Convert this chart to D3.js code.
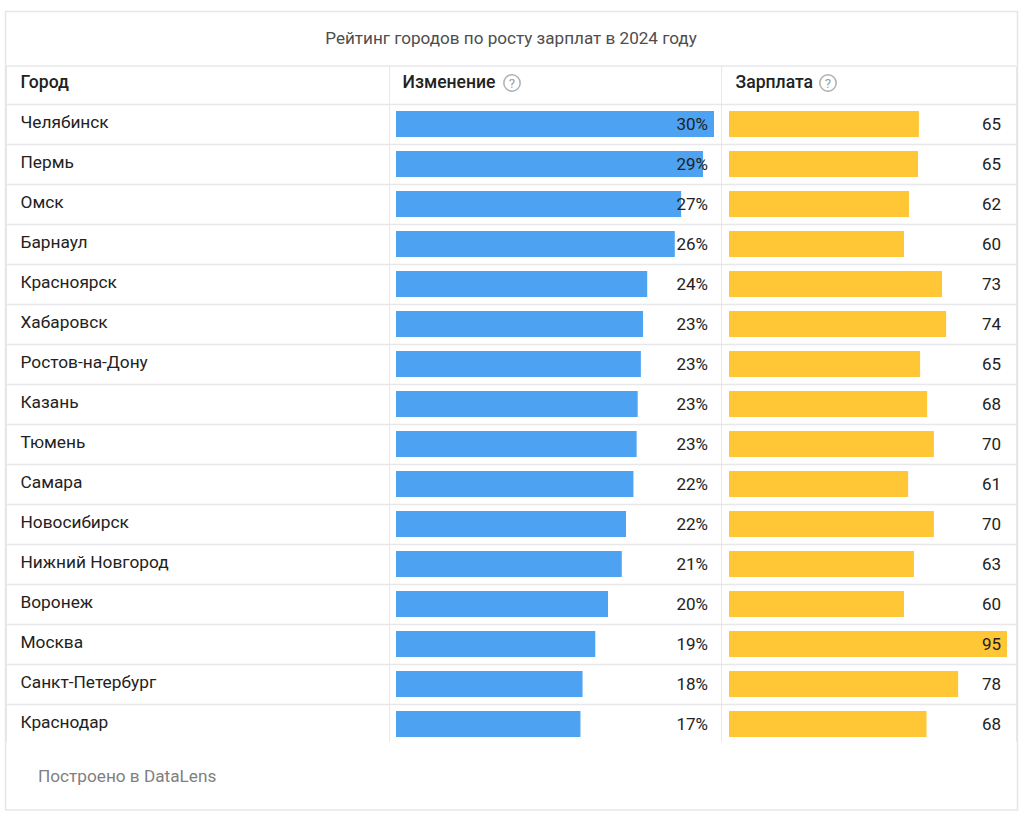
<!DOCTYPE html>
<html lang="ru"><head><meta charset="utf-8">
<script src="https://cdn.jsdelivr.net/npm/d3@7"></script>
<style>html,body{margin:0;padding:0;background:#fff}svg{display:block}text{font-family:Roboto,"Noto Sans",sans-serif}</style>
</head><body><div id="chart"></div>
<script>
const title = "Рейтинг городов по росту зарплат в 2024 году";
const footer = "Построено в DataLens";
const headers = ["Город", "Изменение", "Зарплата"];
const cities = ["Челябинск","Пермь","Омск","Барнаул","Красноярск","Хабаровск","Ростов-на-Дону","Казань","Тюмень","Самара","Новосибирск","Нижний Новгород","Воронеж","Москва","Санкт-Петербург","Краснодар"];
const change = [30.0,28.96,26.9,26.3,23.7,23.3,23.1,22.8,22.7,22.4,21.7,21.3,20.0,18.8,17.6,17.4];
const salary = [64.9,64.6,61.5,59.8,72.8,74.2,65.3,67.7,70.0,61.2,70.0,63.2,59.8,95.0,78.3,67.5];

const W = 1024, H = 822;
const svg = d3.select("#chart").append("svg").attr("width", W).attr("height", H);
const grid = "#e8e8ec", ink = "#222";

// frame
svg.append("rect").attr("x",5.5).attr("y",11.5).attr("width",1012).attr("height",798.5)
  .attr("fill","#fff").attr("stroke","#e6e6e6").attr("stroke-width",1.5);

svg.append("text").attr("x",511).attr("y",43.5).attr("text-anchor","middle")
  .attr("font-size",17.1).attr("fill","#4d4d4d").text(title);

const y = d3.scaleBand().domain(cities).range([104.5, 744.5]).paddingInner(0);
const xChange = d3.scaleLinear().domain([0,30]).range([396,714]);
const xSalary = d3.scaleLinear().domain([0,95]).range([729,1007]);
const tableTop = 66, tableBottom = 742, colX = [6,389,721,1016];

// horizontal rules
const rules = [tableTop, ...cities.map(c => y(c))];
svg.append("g").selectAll("line").data(rules).join("line")
  .attr("x1",colX[0]).attr("x2",colX[3]).attr("y1",d=>d).attr("y2",d=>d)
  .attr("stroke",grid).attr("stroke-width",1.5);
// vertical rules
svg.append("g").selectAll("line").data(colX).join("line")
  .attr("x1",d=>d+.5).attr("x2",d=>d+.5).attr("y1",tableTop).attr("y2",tableBottom)
  .attr("stroke",grid).attr("stroke-width",1);

// headers
const hx = [20.5,402.5,735.5];
svg.append("g").selectAll("text").data(headers).join("text")
  .attr("x",(d,i)=>hx[i]).attr("y",88).attr("font-size",17.6).attr("font-weight",500)
  .attr("fill",ink).text(d=>d);
[[512],[828]].forEach(([cx])=>{
  const g = svg.append("g").attr("transform",`translate(${cx},83)`);
  g.append("circle").attr("r",8.2).attr("fill","none").attr("stroke","#b0b0b0").attr("stroke-width",1.5);
  g.append("text").attr("y",4.8).attr("text-anchor","middle").attr("font-size",13.5).attr("fill","#a0a0a0").text("?");
});

const bh = 26;
const rows = svg.append("g").selectAll("g").data(cities).join("g");
rows.append("text").attr("x",20.5).attr("y",c=>y(c)+23).attr("font-size",17.3).attr("fill",ink).text(c=>c);
rows.append("rect").attr("x",xChange(0)).attr("y",c=>y(c)+6.5).attr("height",bh)
  .attr("width",(c,i)=>xChange(change[i])-xChange(0)).attr("fill","#4da2f1");
rows.append("text").attr("x",708).attr("y",c=>y(c)+25.5).attr("text-anchor","end").attr("font-size",17)
  .attr("fill",ink).text((c,i)=>Math.round(change[i])+"%");
rows.append("rect").attr("x",xSalary(0)).attr("y",c=>y(c)+6.5).attr("height",bh)
  .attr("width",(c,i)=>xSalary(salary[i])-xSalary(0)).attr("fill","#ffc636");
rows.append("text").attr("x",1001).attr("y",c=>y(c)+25.5).attr("text-anchor","end").attr("font-size",17)
  .attr("fill",ink).text((c,i)=>Math.round(salary[i]));

svg.append("text").attr("x",38).attr("y",781.5).attr("font-size",17.2).attr("fill","#808080").text(footer);
</script></body></html>
